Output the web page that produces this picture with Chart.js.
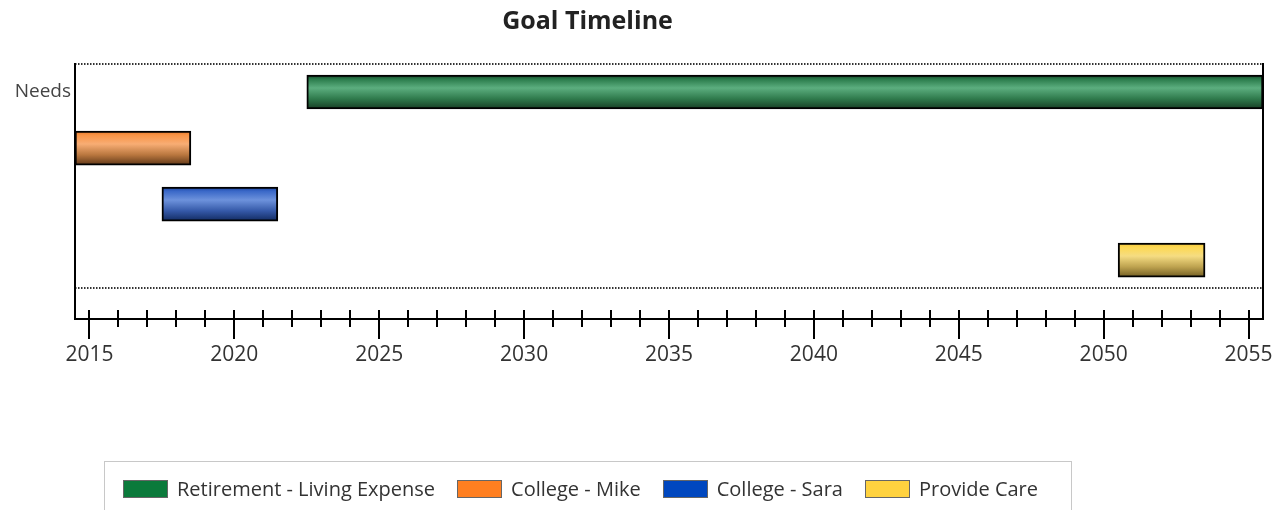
<!DOCTYPE html>
<html>
<head>
<meta charset="utf-8">
<title>Goal Timeline</title>
<script src="https://cdn.jsdelivr.net/npm/chart.js@4.4.0/dist/chart.umd.min.js"></script>
<style>
  body { margin: 0; background: #fff; font-family: "Open Sans", sans-serif; }
  #quadro { position: relative; width: 1275px; height: 510px; overflow: hidden; }
  #titulo {
    position: absolute; left: 0; top: 6px; width: 1175px;
    text-align: center; font-weight: bold; font-size: 25px; line-height: 26px; color: #222;
  }
  #legenda {
    position: absolute; left: 104px; top: 461px; width: 968px; height: 70px;
    box-sizing: border-box; border: 1px solid #c8c8c8;
    display: flex; align-items: center; padding: 0 0 14px 18px;
  }
  #legenda .item { display: flex; align-items: center; margin-right: 22px; }
  #legenda .cor { width: 43px; height: 16px; border: 1px solid #666; margin-right: 9px; }
  #legenda .nome { font-size: 20px; line-height: 18px; color: #333; white-space: nowrap; }
  canvas { position: absolute; left: 0; top: 0; }
</style>
</head>
<body>
<div id="quadro">
  <canvas id="graficoMetas" width="1275" height="510"></canvas>
  <div id="titulo">Goal Timeline</div>
  <div id="legenda"></div>
</div>
<script>
// Metas: nome, linha e intervalo de anos (bordas das barras)
const nomesMetas = ["Retirement - Living Expense", "College - Mike", "College - Sara", "Provide Care"];
const linhasMetas = [0, 1, 2, 3];
const inicioMetas = [2022.5, 2014.5, 2017.5, 2050.5];
const fimMetas = [2055.5, 2018.5, 2021.5, 2053.5];
const rotulosLinhas = ["Needs", "", "", ""];
const anosRotulo = [2015, 2020, 2025, 2030, 2035, 2040, 2045, 2050, 2055];

// Cores da legenda e degradê de cada barra (de cima para baixo)
const coresLegenda = ["#0b7a3b", "#ff7f20", "#0047bf", "#ffd23f"];
const tonsBarras = [
  [[0, "#163f26"], [0.12, "#2a7b4b"], [0.38, "#5cae7f"], [0.7, "#2f7a4c"], [1, "#173d24"]],
  [[0, "#e5772a"], [0.12, "#f99446"], [0.38, "#f8ad74"], [0.7, "#b9773f"], [1, "#5f3718"]],
  [[0, "#1a44a0"], [0.12, "#3a68c8"], [0.38, "#6d92dc"], [0.7, "#3559a8"], [1, "#112a60"]],
  [[0, "#f1c43a"], [0.12, "#fdd852"], [0.38, "#f5dc82"], [0.7, "#bda24f"], [1, "#715c22"]]
];
const ESPESSURA = 34;

document.addEventListener("DOMContentLoaded", () => {
  Chart.defaults.font.family = "'Open Sans', sans-serif";

  // Linhas pontilhadas, moldura do gráfico e marcas de ano no eixo
  const moldura = {
    id: "moldura",
    afterDraw(chart) {
      const { ctx, chartArea: a, scales: { x, y } } = chart;
      ctx.save();
      ctx.strokeStyle = "#333";
      ctx.lineWidth = 2;
      ctx.setLineDash([1.5, 1.5]);
      [y.min, linhasMetas.length - 0.5].forEach(v => {
        const py = Math.round(y.getPixelForValue(v));
        ctx.beginPath();
        ctx.moveTo(a.left, py);
        ctx.lineTo(a.right, py);
        ctx.stroke();
      });
      ctx.setLineDash([]);
      ctx.strokeStyle = "#000";
      ctx.lineWidth = 2;
      ctx.beginPath();
      ctx.moveTo(a.left, a.top - 1);
      ctx.lineTo(a.left, a.bottom);
      ctx.lineTo(a.right, a.bottom);
      ctx.lineTo(a.right, a.top - 1);
      ctx.stroke();
      for (let ano = Math.ceil(x.min); ano <= x.max; ano++) {
        const px = Math.round(x.getPixelForValue(ano));
        ctx.beginPath();
        ctx.moveTo(px, a.bottom - 9);
        ctx.lineTo(px, a.bottom + (ano % 5 === 0 ? 20 : 8));
        ctx.stroke();
      }
      ctx.restore();
    }
  };

  const ctx = document.getElementById("graficoMetas").getContext("2d");
  new Chart(ctx, {
    type: "bar",
    data: {
      datasets: [{
        label: "Metas",
        data: linhasMetas.map((linha, i) => ({ y: linha, x: [inicioMetas[i], fimMetas[i]] })),
        barThickness: ESPESSURA,
        borderColor: "#000",
        borderWidth: 2,
        borderSkipped: false,
        backgroundColor: (c) => {
          const i = c.dataIndex;
          if (i === undefined || !c.chart.chartArea) return coresLegenda[0];
          const centro = c.chart.scales.y.getPixelForValue(linhasMetas[i]);
          const g = c.chart.ctx.createLinearGradient(0, centro - ESPESSURA / 2, 0, centro + ESPESSURA / 2);
          tonsBarras[i].forEach(([p, cor]) => g.addColorStop(p, cor));
          return g;
        }
      }]
    },
    options: {
      indexAxis: "y",
      responsive: false,
      animation: false,
      layout: { padding: { top: 64, right: 12, left: 0, bottom: 0 } },
      plugins: {
        legend: { display: false },
        title: { display: false },
        tooltip: { enabled: false }
      },
      scales: {
        x: {
          type: "linear",
          min: 2014.5,
          max: 2055.5,
          afterBuildTicks: s => { s.ticks = anosRotulo.map(v => ({ value: v })); },
          afterFit: s => { s.height = 191; s.paddingLeft = 0; s.paddingRight = 0; },
          grid: { display: false, drawTicks: false },
          border: { display: false },
          ticks: {
            callback: v => String(v),
            autoSkip: false,
            maxRotation: 0,
            padding: 23,
            color: "#333",
            font: { size: 21 }
          }
        },
        y: {
          type: "linear",
          reverse: true,
          offset: false,
          min: -0.5,
          max: 4.05,
          afterBuildTicks: s => { s.ticks = linhasMetas.map(v => ({ value: v })); },
          afterFit: s => { s.width = 75; s.paddingTop = 0; s.paddingBottom = 0; },
          grid: { display: false, drawTicks: false },
          border: { display: false },
          ticks: {
            callback: v => rotulosLinhas[v],
            padding: 4,
            color: "#444",
            font: { size: 19 }
          }
        }
      }
    },
    plugins: [moldura]
  });

  // Legenda montada a partir das metas
  const legenda = document.getElementById("legenda");
  nomesMetas.forEach((nome, i) => {
    const item = document.createElement("div");
    item.className = "item";
    item.innerHTML = `<span class="cor" style="background:${coresLegenda[i]}"></span><span class="nome">${nome}</span>`;
    legenda.appendChild(item);
  });
});
</script>
</body>
</html>
